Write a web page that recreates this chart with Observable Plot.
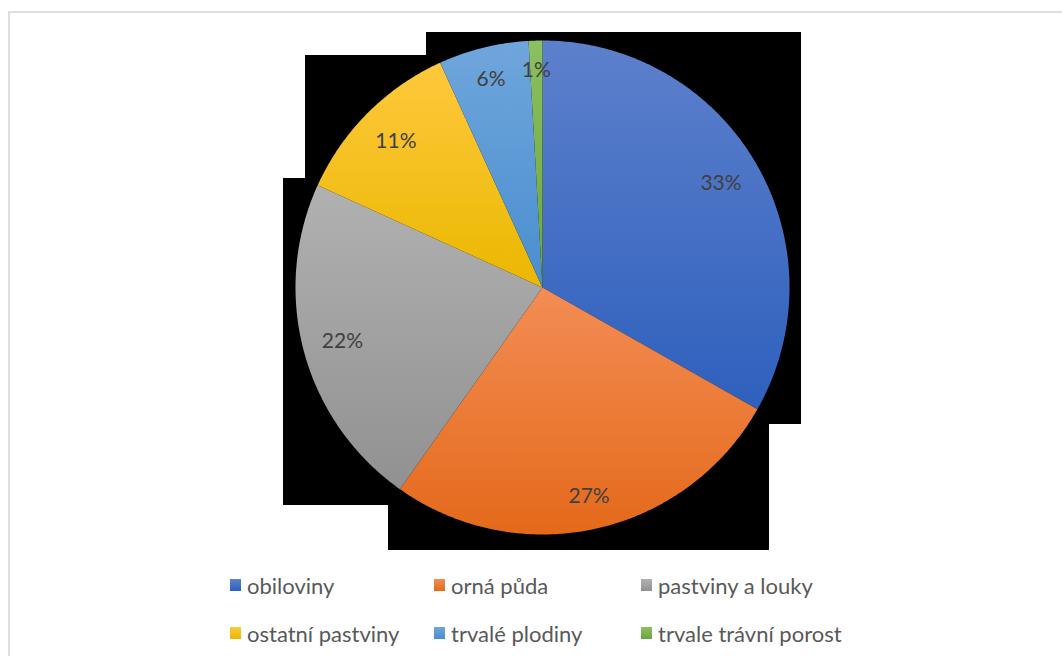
<!DOCTYPE html>
<html>
<head>
<meta charset="utf-8">
<script src="https://cdn.jsdelivr.net/npm/d3@7"></script>
<script src="https://cdn.jsdelivr.net/npm/@observablehq/plot@0.6"></script>
<style>
  html, body { margin: 0; padding: 0; background: #fff; }
  body { width: 1062px; height: 656px; overflow: hidden; position: relative; font-family: Lato, "Open Sans", sans-serif; }
  #frame { position: absolute; left: 8px; top: 11px; right: -10px; bottom: -10px; border-left: 2px solid #dedede; border-top: 2px solid #dedede; }
  .blk { position: absolute; background: #000; }
  #chart { position: absolute; left: 0; top: 0; }
  #legend { position: absolute; left: 0; top: 0; width: 1062px; height: 656px; pointer-events: none; }
  .item { position: absolute; display: flex; align-items: center; font-size: 22px; color: #595959; white-space: nowrap; }
  .sw { width: 11px; height: 12px; margin-right: 6px; }
</style>
</head>
<body>
<div id="frame"></div>
<div class="blk" style="left:426px;top:32px;width:375px;height:392px"></div>
<div class="blk" style="left:305px;top:55px;width:496px;height:369px"></div>
<div class="blk" style="left:283px;top:178px;width:486px;height:327px"></div>
<div class="blk" style="left:388px;top:178px;width:381px;height:372px"></div>
<div id="chart"></div>
<div id="legend"></div>
<script>
// ---- data ----
const categories = ["obiloviny", "orná půda", "pastviny a louky", "ostatní pastviny", "trvalé plodiny", "trvale trávní porost"];
const values = [33.2, 26.6, 22.0, 11.4, 5.9, 0.9];
const colorsTop = ["#5d80cc", "#f38d55", "#b1b1b1", "#ffc83d", "#6fa6dc", "#8cc063"];
const colorsBottom = ["#2e60bd", "#e4691a", "#919191", "#eab800", "#4a8ecf", "#69a63d"];
const legendCols = [0, 1, 2, 0, 1, 2];
const legendRows = [0, 0, 0, 1, 1, 1];

// ---- derived geometry (unit circle, clockwise from 12 o'clock) ----
const R = 247;                 // pixel radius of the pie (frame is 2R square)
const total = d3.sum(values);
const slicePts = [];
const labelPts = [];
let cum = 0;
categories.forEach((name, i) => {
  const a0 = cum / total * 2 * Math.PI;
  cum += values[i];
  const a1 = cum / total * 2 * Math.PI;
  const n = Math.max(2, Math.ceil((a1 - a0) / (Math.PI / 360)));
  slicePts.push({name, x: 0, y: 0});
  for (let k = 0; k <= n; k++) {
    const a = a0 + (a1 - a0) * k / n;
    slicePts.push({name, x: Math.sin(a), y: Math.cos(a)});
  }
  slicePts.push({name, x: 0, y: 0});
  // "inside end" label placement: the label box's outer corner sits just inside the rim
  const am = (a0 + a1) / 2;
  const dx = Math.sin(am), dy = Math.cos(am);
  const text = Math.round(values[i] / total * 100) + "%";
  const w = text.length * 6.5, h = 11, D = R - 18;
  const b = Math.abs(dx) * w + Math.abs(dy) * h;
  const c = w * w + h * h - D * D;
  const r = (-b + Math.sqrt(b * b - c)) / R;
  labelPts.push({name, x: r * dx, y: r * dy, text});
});

const W = 1062, H = 560;
const plot = Plot.plot({
  width: W,
  height: H,
  marginLeft: 542 - R,
  marginRight: W - (542 + R),
  marginTop: 287 - R,
  marginBottom: H - (287 + R),
  style: {background: "none", overflow: "visible"},
  x: {domain: [-1, 1], axis: null},
  y: {domain: [-1, 1], axis: null},
  color: {domain: categories, range: categories.map((_, i) => `url(#grad${i})`)},
  marks: [
    Plot.line(slicePts, {x: "x", y: "y", z: "name", fill: "name", stroke: "none", curve: "linear"}),
    Plot.text(labelPts, {x: "x", y: "y", text: "text", fill: "#404040", fontSize: 21, fontFamily: "Lato, 'Open Sans', sans-serif"})
  ]
});

const defs = d3.select(plot).insert("defs", ":first-child");
categories.forEach((_, i) => {
  const g = defs.append("linearGradient").attr("id", `grad${i}`).attr("x1", 0).attr("y1", 0).attr("x2", 0).attr("y2", 1);
  g.append("stop").attr("offset", "0%").attr("stop-color", colorsTop[i]);
  g.append("stop").attr("offset", "100%").attr("stop-color", colorsBottom[i]);
});
document.getElementById("chart").appendChild(plot);

// ---- legend ----
const colX = [230, 434, 641];
const rowY = [572, 620];
const legend = document.getElementById("legend");
categories.forEach((name, i) => {
  const it = document.createElement("div");
  it.className = "item";
  it.style.left = colX[legendCols[i]] + "px";
  it.style.top = rowY[legendRows[i]] + "px";
  it.style.height = "26px";
  const sw = document.createElement("span");
  sw.className = "sw";
  sw.style.background = `linear-gradient(${colorsTop[i]}, ${colorsBottom[i]})`;
  const tx = document.createElement("span");
  tx.textContent = name;
  it.appendChild(sw);
  it.appendChild(tx);
  legend.appendChild(it);
});
</script>
</body>
</html>
